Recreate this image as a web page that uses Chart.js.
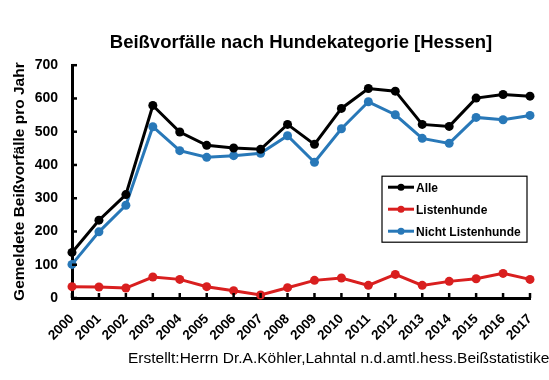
<!DOCTYPE html>
<html><head><meta charset="utf-8">
<script src="https://cdn.jsdelivr.net/npm/chart.js@4/dist/chart.umd.min.js"></script>
<style>html,body{margin:0;padding:0;background:#fff}#wrap{width:549px;height:380px;position:relative}</style>
</head><body><div id="wrap"><canvas id="c" width="549" height="380"></canvas></div>
<script>
const years = ['2000','2001','2002','2003','2004','2005','2006','2007','2008','2009','2010','2011','2012','2013','2014','2015','2016','2017'];
const alle = [137,234,311,579,499,459,451,447,522,462,570,630,622,522,516,601,612,607];
const listenhunde = [34,33,30,63,56,34,22,9,31,53,60,38,71,38,50,58,74,56];
const nichtListenhunde = [101,199,279,515,443,423,428,435,488,408,509,590,551,480,465,543,536,549];
const seriesNames = ['Alle','Listenhunde','Nicht Listenhunde'];
const yTicks = [0,100,200,300,400,500,600,700];
const titleText = 'Beißvorfälle nach Hundekategorie [Hessen]';
const yTitle = 'Gemeldete Beißvorfälle pro Jahr';
const footerText = 'Erstellt:Herrn Dr.A.Köhler,Lahntal n.d.amtl.hess.Beißstatistiken';

const colors = ['#000000','#d91f1f','#2878b8'];
const F = 'Arial, "Liberation Sans", sans-serif';

function ds(label, data, color){
  return {label, data, borderColor: color, backgroundColor: color, borderWidth: 3,
    pointRadius: 4.5, pointHoverRadius: 4.5, pointBorderWidth: 0, pointBackgroundColor: color,
    tension: 0, clip: false};
}

const insideTicks = {
  id: 'insideTicks',
  afterDraw(chart){
    const ctx = chart.ctx, xs = chart.scales.x, ys = chart.scales.y, a = chart.chartArea;
    ctx.save(); ctx.strokeStyle = '#000'; ctx.lineWidth = 2.5;
    xs.ticks.forEach((t,i)=>{ const x = xs.getPixelForTick(i); ctx.beginPath(); ctx.moveTo(x, a.bottom); ctx.lineTo(x, a.bottom-5); ctx.stroke(); });
    ys.ticks.forEach((t,i)=>{ const y = ys.getPixelForTick(i); ctx.beginPath(); ctx.moveTo(a.left, y); ctx.lineTo(a.left+5, y); ctx.stroke(); });
    ctx.restore();
  }
};

const boxLegend = {
  id: 'boxLegend',
  afterDraw(chart){
    const ctx = chart.ctx, a = chart.chartArea;
    const w = 145, h = 66;
    const x0 = a.right - w - 3, y0 = a.top + 111;
    ctx.save();
    ctx.fillStyle = '#fff'; ctx.fillRect(x0, y0, w, h);
    ctx.strokeStyle = '#000'; ctx.lineWidth = 1.2; ctx.strokeRect(x0, y0, w, h);
    ctx.font = 'bold 12px ' + F; ctx.textBaseline = 'middle'; ctx.textAlign = 'left';
    chart.data.datasets.forEach((d,i)=>{
      const y = y0 + 11 + i*22;
      ctx.strokeStyle = d.borderColor; ctx.lineWidth = 3;
      ctx.beginPath(); ctx.moveTo(x0+6, y); ctx.lineTo(x0+32, y); ctx.stroke();
      ctx.fillStyle = d.borderColor; ctx.beginPath(); ctx.arc(x0+19, y, 3.5, 0, Math.PI*2); ctx.fill();
      ctx.fillStyle = '#000'; ctx.fillText(d.label, x0+34, y+1);
    });
    ctx.restore();
  }
};

const footer = {
  id: 'footer',
  afterDraw(chart){
    const ctx = chart.ctx;
    ctx.save(); ctx.font = '15.5px ' + F; ctx.fillStyle = '#000'; ctx.textBaseline = 'alphabetic'; ctx.textAlign = 'left';
    ctx.fillText(footerText, 128, 363);
    ctx.restore();
  }
};

new Chart(document.getElementById('c'), {
  type: 'line',
  data: { labels: years, datasets: [ds(seriesNames[0], alle, colors[0]), ds(seriesNames[1], listenhunde, colors[1]), ds(seriesNames[2], nichtListenhunde, colors[2])] },
  options: {
    responsive: false, animation: false, devicePixelRatio: 1,
    layout: { padding: { left: 10, right: 19, top: 0, bottom: 0 } },
    plugins: {
      legend: { display: false }, tooltip: { enabled: false },
      title: { display: true, text: titleText, fullSize: false, color: '#000', font: { family: F, size: 18.5, weight: 'bold' }, padding: { top: 32, bottom: 11 } }
    },
    scales: {
      x: {
        offset: false,
        grid: { display: false },
        border: { display: true, color: '#000', width: 3 },
        ticks: { color: '#000', font: { family: F, size: 13.5, weight: 'bold' }, maxRotation: 45, minRotation: 45, autoSkip: false, padding: 5 },
        afterFit(s){ s.height = 82; }
      },
      y: {
        min: 0, max: 700,
        grid: { display: false },
        border: { display: true, color: '#000', width: 3 },
        afterBuildTicks(s){ s.ticks = yTicks.map(v=>({value:v})); },
        ticks: { color: '#000', font: { family: F, size: 14, weight: 'bold' }, padding: 6 },
        title: { display: true, text: yTitle, color: '#000', font: { family: F, size: 15.5, weight: 'bold' }, padding: { top: 0, bottom: 4 } },
        afterFit(s){ s.width = 62; }
      }
    }
  },
  plugins: [insideTicks, boxLegend, footer]
});
</script></body></html>
